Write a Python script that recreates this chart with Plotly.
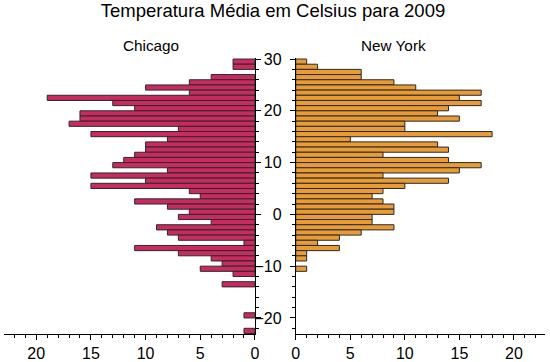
import plotly.graph_objects as go

# Lower edge of each 1 °C temperature bin (top to bottom)
temp_bins = [29, 28, 27, 26, 25, 24, 23, 22, 21, 20, 19, 18, 17, 16, 15, 14, 13, 12, 11, 10,
             9, 8, 7, 6, 5, 4, 3, 2, 1, 0, -1, -2, -3, -4, -5, -6, -7, -8, -9, -10,
             -11, -12, -13, -14, -15, -16, -17, -18, -19, -20, -21, -22, -23]

# Number of days per bin
chicago_days = [2, 2, 0, 4, 6, 10, 6, 19, 13, 11, 16, 16, 17, 7, 15, 8, 10, 10, 11, 12,
                13, 8, 15, 10, 15, 6, 5, 11, 8, 6, 7, 4, 9, 8, 7, 1, 11, 7, 4, 3,
                5, 2, 0, 3, 0, 0, 0, 0, 0, 1, 0, 0, 1]
newyork_days = [1, 2, 6, 6, 9, 11, 17, 15, 17, 14, 13, 15, 10, 10, 18, 5, 13, 14, 8, 14,
                17, 15, 8, 14, 10, 8, 7, 8, 9, 9, 7, 7, 9, 6, 4, 2, 4, 1, 1, 0,
                1, 0, 0, 0, 0, 0, 0, 0, 0, 0, 0, 0, 0]

title_text = "Temperatura Média em Celsius para 2009"
city_names = ["Chicago", "New York"]
x_tickvals = [0, 5, 10, 15, 20]
y_tickvals = [-20, -10, 0, 10, 20, 30]

FONT = "Liberation Sans, Arial, sans-serif"
CHI_COLOR = "#C92A60"
NY_COLOR = "#E99B35"
LINE = "#2a2a2a"

centers = [b + 0.5 for b in temp_bins]

def nz(vals):
    return [v if v > 0 else None for v in vals]

fig = go.Figure()
fig.add_trace(go.Bar(
    y=centers, x=nz(chicago_days), orientation="h", width=1,
    marker=dict(color=CHI_COLOR, line=dict(color=LINE, width=1)),
    xaxis="x", yaxis="y", showlegend=False, name="Chicago"))
fig.add_trace(go.Bar(
    y=centers, x=nz(newyork_days), orientation="h", width=1,
    marker=dict(color=NY_COLOR, line=dict(color=LINE, width=1)),
    xaxis="x2", yaxis="y2", showlegend=False, name="New York"))

W, H = 550, 362
ml, mr, mt, mb = 0, 1.7, 58.3, 26.3
pw = W - ml - mr
yr = [-23.1, 30.2]

common_x = dict(
    showgrid=False, zeroline=False, showline=True, linecolor="black", linewidth=1,
    ticks="outside", ticklen=5, tickcolor="black", tickvals=x_tickvals,
    tickfont=dict(family=FONT, size=16, color="black"),
    minor=dict(dtick=1, ticks="outside", ticklen=3, tickcolor="black"),
)
common_y = dict(
    showgrid=False, zeroline=False, showline=True, linecolor="black", linewidth=1,
    ticks="outside", ticklen=5, tickcolor="black", tickvals=y_tickvals, range=yr,
    tickfont=dict(family=FONT, size=16, color="black"),
    minor=dict(tick0=0, dtick=2, ticks="outside", ticklen=3, tickcolor="black"),
)

fig.update_layout(
    width=W, height=H,
    margin=dict(l=ml, r=mr, t=mt, b=mb, pad=0),
    paper_bgcolor="white", plot_bgcolor="white",
    bargap=0,
    font=dict(family=FONT, color="black"),
    title=dict(text=title_text, x=273 / W, xanchor="center", y=1 - 10.5 / H, yanchor="middle",
               font=dict(family=FONT, size=18.5, color="black")),
    xaxis=dict(domain=[0, 254.3 / pw], range=[22.95, 0], anchor="y", **common_x),
    xaxis2=dict(domain=[295.7 / pw, 1], range=[0, 22.85], anchor="y2", **common_x),
    yaxis=dict(domain=[0, 1], anchor="x", side="right", showticklabels=False, **common_y),
    yaxis2=dict(domain=[0, 1], anchor="x2", side="left", ticklabelstandoff=5, **common_y),
    annotations=[
        dict(text=city_names[0], x=148.5 / pw, y=1 + (mt - 45.5) / (H - mt - mb),
             xref="paper", yref="paper", xanchor="center", yanchor="middle", showarrow=False,
             font=dict(family=FONT, size=15.3, color="black")),
        dict(text=city_names[1], x=394.7 / pw, y=1 + (mt - 45.5) / (H - mt - mb),
             xref="paper", yref="paper", xanchor="center", yanchor="middle", showarrow=False,
             font=dict(family=FONT, size=15.3, color="black")),
    ],
)

fig.write_html("out.html", config={"displayModeBar": False, "staticPlot": True})

# remove the browser's default page margin so the figure sits at the window's top-left
with open("out.html", "r", encoding="utf-8") as f:
    html = f.read()
html = html.replace("<head>", "<head><style>html,body{margin:0;padding:0;overflow:hidden;}</style>", 1)
with open("out.html", "w", encoding="utf-8") as f:
    f.write(html)
